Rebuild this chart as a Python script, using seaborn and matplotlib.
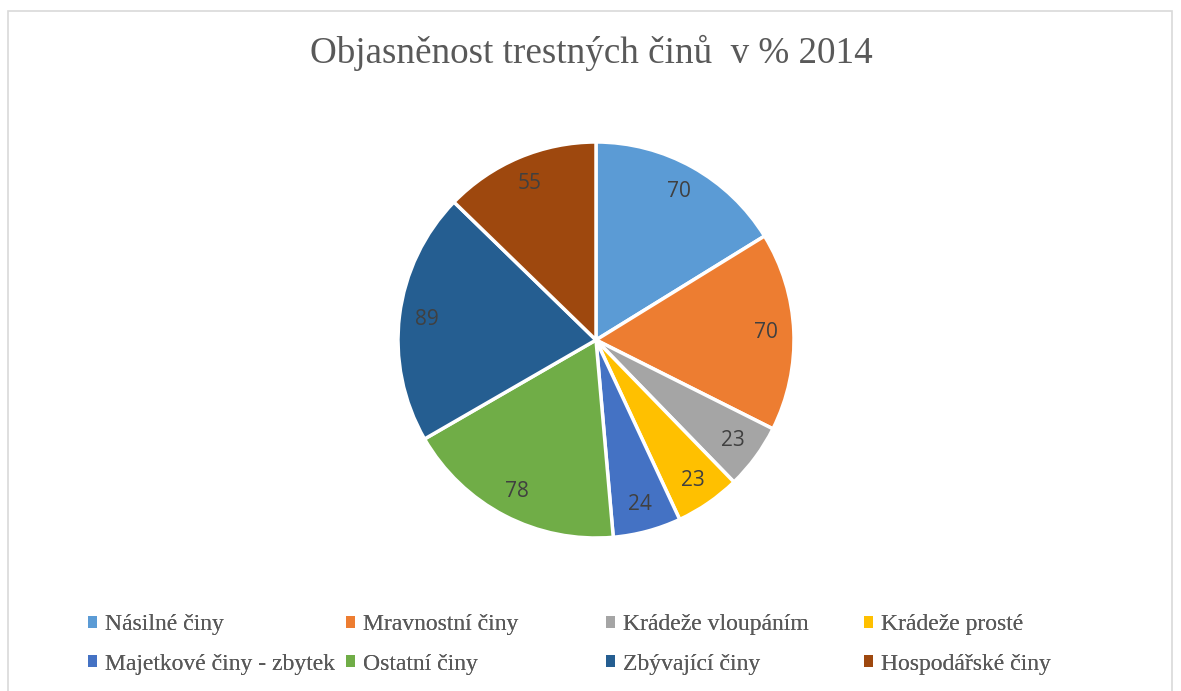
import matplotlib
matplotlib.use("Agg")
import matplotlib.pyplot as plt
import matplotlib.patches as mpatches
import seaborn as sns

categories = ["Násilné činy", "Mravnostní činy", "Krádeže vloupáním", "Krádeže prosté",
              "Majetkové činy - zbytek", "Ostatní činy", "Zbývající činy", "Hospodářské činy"]
values = [70, 70, 23, 23, 24, 78, 89, 55]
colors = ["#5B9BD5", "#ED7D31", "#A5A5A5", "#FFC000", "#4472C4", "#70AD47", "#255E91", "#9E480E"]
title = "Objasněnost trestných činů  v % 2014"

sns.set_theme(style="white")
pal = sns.color_palette(colors)

W, H = 1181, 691
fig = plt.figure(figsize=(W / 100, H / 100), dpi=100)

# chart border
fig.patches.append(mpatches.Rectangle((8 / W, -0.02), (1172 - 8) / W, 1 - 11 / H + 0.02,
                                      transform=fig.transFigure, fill=False,
                                      edgecolor="#D9D9D9", linewidth=1.2))

cx, cy, R = 596, 340, 198
ax = fig.add_axes([(cx - R) / W, (H - cy - R) / H, 2 * R / W, 2 * R / H])
total = sum(values)
wedges, texts, autotexts = ax.pie(
    values, colors=pal, startangle=90, counterclock=False,
    autopct=lambda p: f"{p * total / 100:.0f}", pctdistance=0.86,
    wedgeprops=dict(edgecolor="white", linewidth=2.5),
    textprops=dict(color="#404040", fontsize=15, family=["Open Sans", "DejaVu Sans"]))
ax.set_xlim(-1, 1)
ax.set_ylim(-1, 1)
ax.set_aspect("equal")

fig.text(591 / W, 1 - 53 / H, title, ha="center", va="center", fontsize=26.7,
         color="#595959", family=["Liberation Serif", "DejaVu Serif"])

# legend: four equal-width columns, two rows
col_x = [88, 346, 606, 864]
for c in range(4):
    idx = [c, c + 4]
    leg = fig.legend([wedges[i] for i in idx], [categories[i] for i in idx],
                     loc="upper left", bbox_to_anchor=(col_x[c] / W, 1 - 614 / H),
                     frameon=False, handlelength=0.4, handleheight=0.4,
                     handletextpad=0.3, labelspacing=0.8, borderpad=0, borderaxespad=0,
                     prop=dict(family=["Liberation Serif", "DejaVu Serif"], size=17))
    for t in leg.get_texts():
        t.set_color("#595959")
    for hnd in leg.legend_handles:
        hnd.set_edgecolor("none")
    fig.add_artist(leg)

fig.savefig("out.png", dpi=100)
